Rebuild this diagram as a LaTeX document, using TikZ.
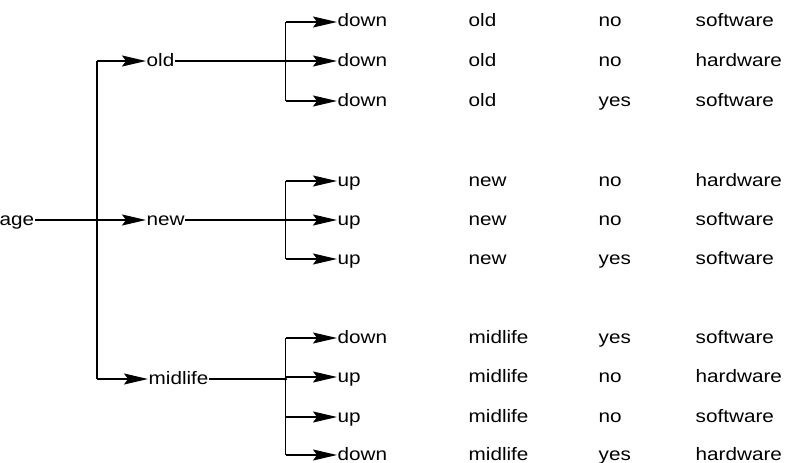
\documentclass[tikz,border=0pt]{standalone}
\usepackage{fontspec}
\setmainfont{Liberation Sans}[FakeStretch=1.15]
\usetikzlibrary{arrows.meta}
\begin{document}
\begin{tikzpicture}[x=1pt,y=-1pt,
  lbl/.style={anchor=west,inner xsep=0.5pt,inner ysep=0pt,text height=10pt,text depth=0pt,font=\fontsize{18}{20}\selectfont},
  conn/.style={line width=1.4pt},
  arr/.style={conn,-{Stealth[length=24pt,width=11pt,inset=4pt]}},
  junc/.style={circle,fill,inner sep=0pt,minimum size=3.5pt}]
\useasboundingbox (0,0) rectangle (785,463);
% root and first level
\node[lbl] (age) at (-1,220) {age};
\node[lbl] (old) at (146,61) {old};
\node[lbl] (new) at (146,220) {new};
\node[lbl] (mid) at (148,379) {midlife};
\coordinate (t1) at (97,61);
\coordinate (t3) at (97,379);
\draw[conn] (t1) -- (t3);
\draw[arr] (age) -- (new);
\draw[arr] (t1) -- (old);
\draw[arr] (t3) -- (mid);
% leaves
\foreach \n/\y/\a/\b/\c/\d in {
  l1/22/down/old/no/software,
  l2/61/down/old/no/hardware,
  l3/101/down/old/yes/software,
  l4/181/up/new/no/hardware,
  l5/220/up/new/no/software,
  l6/259/up/new/yes/software,
  l7/338/down/midlife/yes/software,
  l8/377/up/midlife/no/hardware,
  l9/417/up/midlife/no/software,
  l10/455/down/midlife/yes/hardware}{
  \node[lbl] (\n) at (337,\y) {\a};
  \node[lbl] (\n b) at (468,\y) {\b};
  \node[lbl] (\n c) at (598,\y) {\c};
  \node[lbl] (\n d) at (695,\y) {\d};
  \coordinate (\n j) at (285.5,\y);
  \draw[arr] (\n j) -- (\n);
}
% group connectors
\coordinate (j1) at (285.5,61);
\coordinate (j2) at (285.5,220);
\coordinate (j3) at (285.5,379);
\draw[conn] (old) -- (j1);
\draw[conn] (new) -- (j2);
\draw[conn] (mid) -- (j3);
\draw[conn] (l1j) -- (l3j);
\draw[conn] (l4j) -- (l6j);
\draw[conn] (l7j) -- (l10j);
\node[junc] at (j1) {};
\node[junc] at (j2) {};
\node[junc] at (j3) {};
\end{tikzpicture}
\end{document}
